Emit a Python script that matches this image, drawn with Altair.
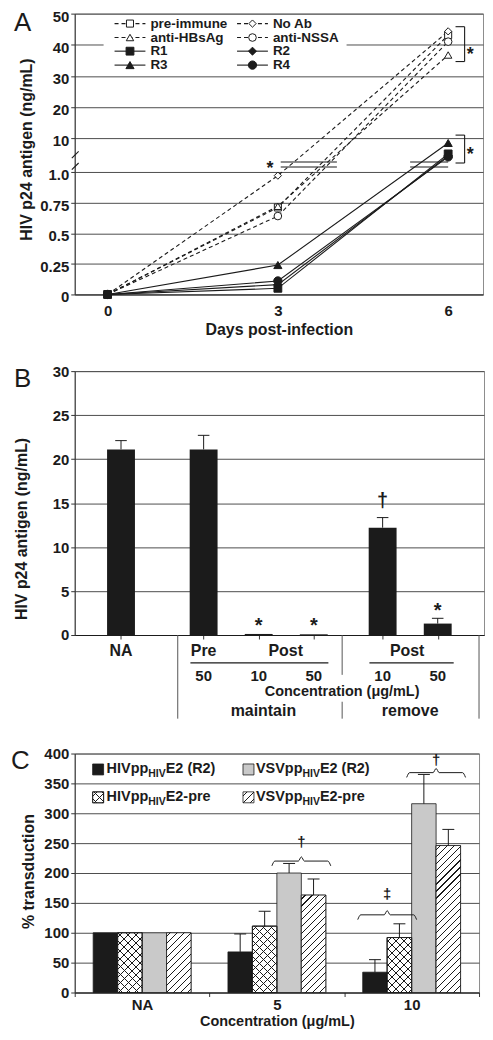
import altair as alt
import pandas as pd

FONT = "Liberation Sans"
INK = "#1b1b1b"

# ---------------- Panel A data ----------------
DAYS = [0, 3, 6]
A_SERIES = ["pre-immune", "No Ab", "anti-HBsAg", "anti-NSSA", "R1", "R2", "R3", "R4"]
PRE_IMMUNE = [0, 0.71, 43.1]
NO_AB = [0, 0.97, 44.3]
ANTI_HBSAG = [0, 0.72, 36.7]
ANTI_NSSA = [0, 0.64, 41.0]
R1 = [0, 0.05, 5.8]
R2 = [0, 0.08, 5.3]
R3 = [0, 0.24, 8.7]
R4 = [0, 0.11, 5.0]
A_Y_TICKS = [0, 0.25, 0.5, 0.75, 1, 10, 20, 30, 40, 50]

# ---------------- Panel B data ----------------
B_CATS = ["NA", "Pre 50 maintain", "Post 10 maintain", "Post 50 maintain", "Post 10 remove", "Post 50 remove"]
B_VALUES = [21.1, 21.1, 0.12, 0.08, 12.2, 1.3]
B_ERRORS = [1.0, 1.6, 0.0, 0.0, 1.15, 0.6]
B_SLOTS = [1.5, 4.5, 6.5, 8.5, 11.0, 13.0]

# ---------------- Panel C data ----------------
C_GROUPS = ["NA", "5", "10"]
C_SERIES = ["HIVppHIVE2 (R2)", "HIVppHIVE2-pre", "VSVppHIVE2 (R2)", "VSVppHIVE2-pre"]
HIV_R2 = [100, 68, 34]
HIV_R2_ERR = [0, 30, 21]
HIV_PRE = [100, 111, 92]
HIV_PRE_ERR = [0, 25, 23]
VSV_R2 = [100, 200, 316]
VSV_R2_ERR = [0, 16, 49]
VSV_PRE = [100, 163, 246]
VSV_PRE_ERR = [0, 27, 27]

# ---------------- styles ----------------
A_SHAPES = ["square", "diamond", "triangle-up", "circle", "square", "diamond", "triangle-up", "circle"]
A_FILLS = ["white"] * 4 + [INK] * 4
A_SIZES = [50, 70, 55, 18, 50, 70, 55, 45]
C_FILLS = [INK, "white", "#c9c9c9", "white"]

WA, HA = 410, 282
WB, HB = 411, 265
WC, HC = 406, 240


def single():
    return alt.Chart(pd.DataFrame({"k": [0]}))


def letter(s, x, y):
    return single().mark_text(text=s, fontSize=26, font=FONT, align="left",
                              baseline="alphabetic", color=INK).encode(
        x=alt.value(x), y=alt.value(y))


def hatch(w, h, period, lw, direction, bg):
    L = w + h
    stops = []
    t = period / 2.0
    stops.append(alt.GradientStop(offset=0, color=bg))
    stops.append(alt.GradientStop(offset=t / L, color=bg))
    while t < L:
        a = t / L
        b = min(t + lw, L) / L
        c = min(t + period, L) / L
        stops += [alt.GradientStop(offset=a, color=INK), alt.GradientStop(offset=b, color=INK),
                  alt.GradientStop(offset=b, color=bg), alt.GradientStop(offset=c, color=bg)]
        t += period
    k = L / (w * w + h * h)
    if direction == "/":
        return alt.LinearGradient(gradient="linear", stops=stops, x1=0, y1=0, x2=k * w, y2=k * h)
    return alt.LinearGradient(gradient="linear", stops=stops, x1=0, y1=1, x2=k * w, y2=1 - k * h)


# =============================== PANEL A ===============================
rowsA = []
for s, vals in zip(A_SERIES, [PRE_IMMUNE, NO_AB, ANTI_HBSAG, ANTI_NSSA, R1, R2, R3, R4]):
    for d, v in zip(DAYS, vals):
        rowsA.append({"series": s, "day": d, "value": v, "ctrl": not s.startswith("R")})
dfA = pd.DataFrame(rowsA)

xA = alt.Scale(domain=[-0.579, 6.614], nice=False, zero=False)
yA = alt.Scale(domain=[0, 1, 10, 50], range=[HA, 159, 125, 0], nice=False, zero=False)
shapeS = alt.Scale(domain=A_SERIES, range=A_SHAPES)
fillS = alt.Scale(domain=A_SERIES, range=A_FILLS)
sizeS = alt.Scale(domain=A_SERIES, range=A_SIZES)

axA_x = alt.Axis(values=DAYS, title="Days post-infection", grid=False, ticks=True, tickSize=0,
                 labelPadding=9, titlePadding=3, format="d")
axA_y = alt.Axis(values=A_Y_TICKS, tickCount=40, grid=True, tickSize=4, labelPadding=2, labelOverlap=False,
                 labelOffset=2.5,
                 labelExpr="datum.value == 1 ? '1.0' : toString(datum.value)",
                 title="HIV p24 antigen (ng/mL)", titleX=-48, titleY=136, titleBaseline="middle")

baseA = alt.Chart(dfA)
encA = dict(x=alt.X("day:Q", scale=xA, axis=axA_x), y=alt.Y("value:Q", scale=yA, axis=axA_y))
linesCtrl = baseA.transform_filter("datum.ctrl").mark_line(
    color=INK, strokeWidth=1.1, strokeDash=[4, 3]).encode(detail="series:N", **encA)
linesR = baseA.transform_filter("!datum.ctrl").mark_line(
    color=INK, strokeWidth=1.1).encode(detail="series:N", **encA)
pointsA = baseA.mark_point(filled=True, stroke=INK, strokeWidth=1, opacity=1).encode(
    shape=alt.Shape("series:N", scale=shapeS, legend=None),
    fill=alt.Fill("series:N", scale=fillS, legend=None),
    size=alt.Size("series:O", scale=sizeS, legend=None), **encA)

# legend (drawn as marks)
leg_rows_y = [10, 24, 37.7, 51.7]
leg_cols_x = [40, 163]
legA = []
for i, s in enumerate(A_SERIES):
    x0 = leg_cols_x[i % 2]
    legA.append({"series": s, "lx1": x0, "lx2": x0 + 31, "mx": x0 + 15.5, "tx": x0 + 36,
                 "ly": leg_rows_y[i // 2], "ctrl": not s.startswith("R")})
dfLegA = pd.DataFrame(legA)
legBox = single().mark_rect(fill="white").encode(
    x=alt.value(29), x2=alt.value(273), y=alt.value(3), y2=alt.value(60))
legLineD = alt.Chart(dfLegA).transform_filter("datum.ctrl").mark_rule(
    color=INK, strokeWidth=1.1, strokeDash=[4, 3]).encode(
    x=alt.X("lx1:Q", scale=None, axis=None), x2="lx2:Q", y=alt.Y("ly:Q", scale=None, axis=None))
legLineS = alt.Chart(dfLegA).transform_filter("!datum.ctrl").mark_rule(
    color=INK, strokeWidth=1.1).encode(
    x=alt.X("lx1:Q", scale=None, axis=None), x2="lx2:Q", y=alt.Y("ly:Q", scale=None, axis=None))
legPts = alt.Chart(dfLegA).mark_point(filled=True, stroke=INK, strokeWidth=1, opacity=1).encode(
    x=alt.X("mx:Q", scale=None, axis=None), y=alt.Y("ly:Q", scale=None, axis=None),
    shape=alt.Shape("series:N", scale=shapeS, legend=None),
    fill=alt.Fill("series:N", scale=fillS, legend=None),
    size=alt.Size("series:O", scale=sizeS, legend=None))
legTxt = alt.Chart(dfLegA).mark_text(align="left", baseline="middle", fontSize=13.5,
                                     fontWeight="bold", font=FONT, color=INK).encode(
    x=alt.X("tx:Q", scale=None, axis=None), y=alt.Y("ly:Q", scale=None, axis=None), text="series:N")

# axis breaks, brackets and significance marks (data units)
segA = pd.DataFrame([
    {"x1": 3.05, "x2": 4.04, "y1": 3.65, "y2": 3.65},
    {"x1": 3.05, "x2": 4.04, "y1": 2.32, "y2": 2.32},
    {"x1": 5.33, "x2": 6.0, "y1": 3.65, "y2": 3.65},
    {"x1": 5.33, "x2": 6.0, "y1": 2.32, "y2": 2.32},
    {"x1": -0.63, "x2": -0.51, "y1": 4.7, "y2": 6.48},
    {"x1": -0.63, "x2": -0.51, "y1": 1.61, "y2": 3.38},
    {"x1": 6.29, "x2": 6.29, "y1": 45.8, "y2": 34.6},
    {"x1": 6.13, "x2": 6.29, "y1": 45.8, "y2": 45.8},
    {"x1": 6.13, "x2": 6.29, "y1": 34.6, "y2": 34.6},
    {"x1": 6.29, "x2": 6.29, "y1": 10.96, "y2": 3.38},
    {"x1": 6.13, "x2": 6.29, "y1": 10.96, "y2": 10.96},
    {"x1": 6.13, "x2": 6.29, "y1": 3.38, "y2": 3.38},
])
segsA = alt.Chart(segA).mark_rule(color=INK, strokeWidth=1.1).encode(
    x=alt.X("x1:Q", scale=xA), x2="x2:Q", y=alt.Y("y1:Q", scale=yA), y2="y2:Q")
starsA = alt.Chart(pd.DataFrame({"x": [2.86, 6.39, 6.39], "y": [0.984, 35.1, 4.3]})).mark_text(
    text="*", fontSize=18, fontWeight="bold", font=FONT, align="center", baseline="alphabetic",
    color=INK).encode(x=alt.X("x:Q", scale=xA), y=alt.Y("y:Q", scale=yA))

panelA = alt.layer(linesCtrl, linesR, pointsA, legBox, legLineD, legLineS, legPts, legTxt,
                   segsA, starsA, letter("A", -61, 17)).properties(width=WA, height=HA)

# =============================== PANEL B ===============================
dfB = pd.DataFrame({"cat": B_CATS, "value": B_VALUES, "err": B_ERRORS, "pos": B_SLOTS})
dfB["top"] = dfB["value"] + dfB["err"]
dfB["c1"] = dfB["pos"] - 0.21
dfB["c2"] = dfB["pos"] + 0.21
xB = alt.Scale(domain=[0, 14.5], nice=False, zero=False)
yB = alt.Scale(domain=[0, 30], nice=False)
axB_x = alt.Axis(values=B_SLOTS, tickCount=40, labels=False, ticks=True, tickSize=4, grid=False, title=None,
                 domainColor=INK)
axB_y = alt.Axis(values=list(range(0, 31, 5)), tickCount=40, grid=True, tickSize=4, labelPadding=2,
                 labelOverlap=False,
                 title="HIV p24 antigen (ng/mL)", titleX=-53, titleY=158, titleBaseline="middle")
barsB = alt.Chart(dfB).mark_bar(size=28, color=INK, orient="vertical").encode(
    x=alt.X("pos:Q", scale=xB, axis=axB_x), y=alt.Y("value:Q", scale=yB, axis=axB_y, stack=None))
errB = alt.Chart(dfB).transform_filter("datum.err > 0").mark_rule(color=INK, strokeWidth=1).encode(
    x=alt.X("pos:Q", scale=xB), y=alt.Y("value:Q", scale=yB), y2="top:Q")
capB = alt.Chart(dfB).transform_filter("datum.err > 0").mark_rule(color=INK, strokeWidth=1).encode(
    x=alt.X("c1:Q", scale=xB), x2="c2:Q", y=alt.Y("top:Q", scale=yB))
marksB = alt.Chart(pd.DataFrame({"t": ["*", "*", "\u2020", "*"], "x": [6.5, 8.5, 11.0, 13.0],
                                 "y": [0.3, 0.3, 14.5, 2.1]})).mark_text(
    fontSize=20, fontWeight="bold", font=FONT, align="center", baseline="alphabetic", color=INK).encode(
    x=alt.X("x:Q", scale=xB), y=alt.Y("y:Q", scale=yB), text="t:N")
labB = pd.DataFrame([
    {"t": "NA", "x": 1.5, "py": 281, "fs": 16},
    {"t": "Pre", "x": 4.5, "py": 281, "fs": 16},
    {"t": "Post", "x": 7.48, "py": 281, "fs": 16},
    {"t": "Post", "x": 11.89, "py": 281, "fs": 16},
    {"t": "50", "x": 4.5, "py": 306, "fs": 15},
    {"t": "10", "x": 6.5, "py": 306, "fs": 15},
    {"t": "50", "x": 8.5, "py": 306, "fs": 15},
    {"t": "10", "x": 11.0, "py": 306, "fs": 15},
    {"t": "50", "x": 13.0, "py": 306, "fs": 15},
    {"t": "Concentration (\u03bcg/mL)", "x": 9.53, "py": 322, "fs": 14.5},
    {"t": "maintain", "x": 6.67, "py": 341, "fs": 16},
    {"t": "remove", "x": 12.0, "py": 341, "fs": 16},
])
labelsB = alt.Chart(labB).mark_text(fontWeight="bold", font=FONT, align="center", baseline="middle",
                                    color=INK).encode(
    x=alt.X("x:Q", scale=xB), y=alt.Y("py:Q", scale=None, axis=None),
    size=alt.Size("fs:Q", scale=None, legend=None), text="t:N")
sepB = pd.DataFrame([
    {"x": 3.56, "y1": HB, "y2": 349},
    {"x": 9.53, "y1": HB, "y2": 305},
    {"x": 9.53, "y1": 332, "y2": 349},
    {"x": 14.5, "y1": HB, "y2": 349},
])
sepsB = alt.Chart(sepB).mark_rule(color="#555", strokeWidth=1).encode(
    x=alt.X("x:Q", scale=xB), y=alt.Y("y1:Q", scale=None, axis=None), y2="y2:Q")
ulB = alt.Chart(pd.DataFrame({"x1": [4.02, 10.52], "x2": [9.03, 13.58]})).mark_rule(
    color=INK, strokeWidth=1.2).encode(x=alt.X("x1:Q", scale=xB), x2="x2:Q", y=alt.value(293))

panelB = alt.layer(barsB, errB, capB, marksB, labelsB, sepsB, ulB,
                   letter("B", -61, 16)).properties(width=WB, height=HB)

# =============================== PANEL C ===============================
rowsC = []
for s, vals, errs in zip(C_SERIES, [HIV_R2, HIV_PRE, VSV_R2, VSV_PRE],
                         [HIV_R2_ERR, HIV_PRE_ERR, VSV_R2_ERR, VSV_PRE_ERR]):
    for g, v, e in zip(C_GROUPS, vals, errs):
        rowsC.append({"series": s, "conc": g, "value": v, "err": e, "top": v + e,
                      "key": s + "|" + g})
dfC = pd.DataFrame(rowsC)

PO = 0.755
band = WC / 3.0
step = band / (4 + 2 * PO)
xC = alt.Scale(domain=C_GROUPS, paddingInner=0, paddingOuter=0)
offC = alt.Scale(domain=C_SERIES, paddingOuter=PO, paddingInner=0)
yC = alt.Scale(domain=[0, 400], nice=False)
axC_x = alt.Axis(title="Concentration (\u03bcg/mL)", labelAngle=0, tickBand="extent", tickSize=4,
                 labelPadding=1, titlePadding=2, grid=False, titleFontSize=14.5, domainColor=INK)
axC_y = alt.Axis(values=list(range(0, 401, 50)), tickCount=40, grid=True, tickSize=4, labelPadding=2,
                 labelOverlap=False,
                 title="% transduction", titleX=-46, titleY=118, titleBaseline="middle")
encC = dict(x=alt.X("conc:N", sort=C_GROUPS, scale=xC, axis=axC_x),
            xOffset=alt.XOffset("series:N", scale=offC, sort=C_SERIES),
            y=alt.Y("value:Q", scale=yC, axis=axC_y, stack=None))
barsC = alt.Chart(dfC).mark_bar(stroke=INK, strokeWidth=0.8).encode(
    fill=alt.Fill("series:N", scale=alt.Scale(domain=C_SERIES, range=C_FILLS), legend=None), **encC)

hatchLayers = []
for r in rowsC:
    if r["series"] not in (C_SERIES[1], C_SERIES[3]):
        continue
    h = r["value"] * HC / 400.0
    flt = "datum.key == '%s'" % r["key"]
    if r["series"] == C_SERIES[3]:
        hatchLayers.append(alt.Chart(dfC).transform_filter(flt).mark_bar(
            fill=hatch(step, h, 7.0, 1.1, "/", "white"), stroke=INK, strokeWidth=0.8).encode(**encC))
    else:
        hatchLayers.append(alt.Chart(dfC).transform_filter(flt).mark_bar(
            fill=hatch(step, h, 8.0, 1.0, "/", "white"), stroke=INK, strokeWidth=0.8).encode(**encC))
        hatchLayers.append(alt.Chart(dfC).transform_filter(flt).mark_bar(
            fill=hatch(step, h, 8.0, 1.0, "\\", "rgba(255,255,255,0)"), stroke=INK,
            strokeWidth=0.8).encode(**encC))

errC = alt.Chart(dfC).transform_filter("datum.err > 0").mark_rule(color=INK, strokeWidth=1).encode(
    x=alt.X("conc:N", sort=C_GROUPS, scale=xC), xOffset=alt.XOffset("series:N", scale=offC, sort=C_SERIES),
    y=alt.Y("value:Q", scale=yC), y2="top:Q")
capC = alt.Chart(dfC).transform_filter("datum.err > 0").mark_tick(
    orient="horizontal", size=12, thickness=1, color=INK, opacity=1).encode(
    x=alt.X("conc:N", sort=C_GROUPS, scale=xC), xOffset=alt.XOffset("series:N", scale=offC, sort=C_SERIES),
    y=alt.Y("top:Q", scale=yC))


def bar_left(g, j):
    return g * band + PO * step + j * step


# braces: (group, first bar, y value, symbol, symbol baseline value)
BRACES = [(1, 2, 220, "\u2020", 243), (2, 0, 130, "\u2021", 157), (2, 2, 368, "\u2020", 380)]
braceRows, symRows = [], []
for bi, (g, j, yv, sym, sy) in enumerate(BRACES):
    xa = bar_left(g, j) - 5
    xb = bar_left(g, j + 2) + 5
    xm = (xa + xb) / 2
    pts = [(xa, yv - 8), (xa + 3, yv), (xm - 3, yv), (xm, yv + 7), (xm + 3, yv), (xb - 3, yv), (xb, yv - 8)]
    for o, (px, py) in enumerate(pts):
        braceRows.append({"b": bi, "o": o, "px": px, "y": py})
    symRows.append({"t": sym, "px": xm, "y": sy})
bracesC = alt.Chart(pd.DataFrame(braceRows)).mark_line(color=INK, strokeWidth=1, interpolate="monotone").encode(
    x=alt.X("px:Q", scale=None, axis=None), y=alt.Y("y:Q", scale=yC), detail="b:N", order="o:Q")
symsC = alt.Chart(pd.DataFrame(symRows)).mark_text(fontSize=15, fontWeight="bold", font=FONT,
                                                   align="center", baseline="alphabetic", color=INK).encode(
    x=alt.X("px:Q", scale=None, axis=None), y=alt.Y("y:Q", scale=yC), text="t:N")

# legend for panel C
AW = {"H": .722, "I": .278, "V": .667, "p": .611, "S": .667, "E": .667, "2": .556, " ": .278,
      "(": .333, "R": .722, ")": .333, "-": .333, "r": .389, "e": .556}


def tw(s, fs):
    return sum(AW[c] for c in s) * fs


LEG_C = [("HIVpp", "E2 (R2)", 0, 0), ("VSVpp", "E2 (R2)", 1, 0),
         ("HIVpp", "E2-pre", 0, 1), ("VSVpp", "E2-pre", 1, 1)]
sw_x = [18, 169]
tx_x = [32, 182]
row_y = [16, 44]
FS, FSS = 14.5, 10.5
txtRows = []
for pre, suf, col, row in LEG_C:
    x0 = tx_x[col]
    y0 = row_y[row]
    txtRows.append({"t": pre, "px": x0, "py": y0, "fs": FS})
    x1 = x0 + tw(pre, FS)
    txtRows.append({"t": "HIV", "px": x1, "py": y0 + 4.5, "fs": FSS})
    x2 = x1 + tw("HIV", FSS)
    txtRows.append({"t": suf, "px": x2, "py": y0, "fs": FS})
legTxtC = alt.Chart(pd.DataFrame(txtRows)).mark_text(fontWeight="bold", font=FONT, align="left",
                                                     baseline="middle", color=INK).encode(
    x=alt.X("px:Q", scale=None, axis=None), y=alt.Y("py:Q", scale=None, axis=None),
    size=alt.Size("fs:Q", scale=None, legend=None), text="t:N")
swatches = []
for k, (pre, suf, col, row) in enumerate(LEG_C):
    x0, y0 = sw_x[col], row_y[row] - 5.5
    enc = dict(x=alt.value(x0), x2=alt.value(x0 + 11), y=alt.value(y0), y2=alt.value(y0 + 11))
    if k == 0:
        swatches.append(single().mark_rect(fill=INK, stroke=INK, strokeWidth=0.8).encode(**enc))
    elif k == 1:
        swatches.append(single().mark_rect(fill="#c9c9c9", stroke=INK, strokeWidth=0.8).encode(**enc))
    elif k == 2:
        swatches.append(single().mark_rect(fill=hatch(11, 11, 8.0, 1.0, "/", "white"), stroke=INK,
                                           strokeWidth=0.8).encode(**enc))
        swatches.append(single().mark_rect(fill=hatch(11, 11, 8.0, 1.0, "\\", "rgba(255,255,255,0)"),
                                           stroke=INK, strokeWidth=0.8).encode(**enc))
    else:
        swatches.append(single().mark_rect(fill=hatch(11, 11, 7.0, 1.1, "/", "white"), stroke=INK,
                                           strokeWidth=0.8).encode(**enc))

panelC = alt.layer(barsC, *hatchLayers, errC, capC, bracesC, symsC, legTxtC, *swatches,
                   letter("C", -64, 16)).properties(width=WC, height=HC)

top = alt.vconcat(panelA, panelB, spacing=25).resolve_scale(
    fill="independent", shape="independent", size="independent")
chart = alt.vconcat(top, panelC, spacing=26).resolve_scale(
    fill="independent", shape="independent", size="independent").properties(
    padding={"left": 2, "top": -1.5, "right": 0, "bottom": 0}
).configure_view(stroke="#8c8c8c").configure_axis(
    labelFont=FONT, titleFont=FONT, labelFontWeight="bold", titleFontWeight="bold",
    labelColor=INK, titleColor=INK, gridColor="#4d4d4d", domainColor="#333", tickColor="#333",
    labelFontSize=15, titleFontSize=16
).configure_text(font=FONT)

chart.save("out.html", embed_options={"renderer": "svg", "actions": False})
